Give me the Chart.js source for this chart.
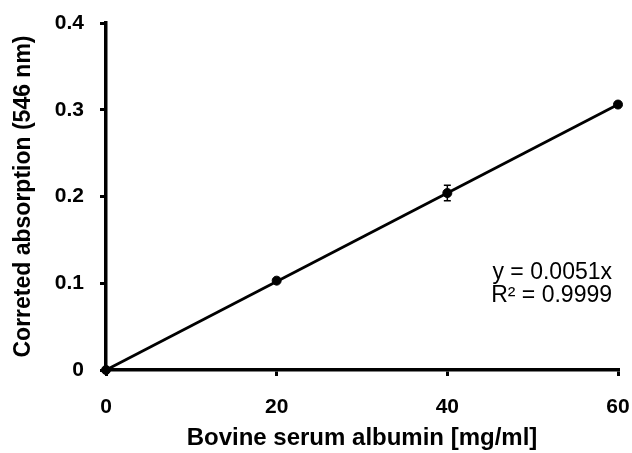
<!DOCTYPE html>
<html>
<head>
<meta charset="utf-8">
<script src="https://cdn.jsdelivr.net/npm/chart.js@4/dist/chart.umd.min.js"></script>
<style>
  html, body { margin: 0; padding: 0; background: #fff; }
  #wrap { width: 632px; height: 453px; }
</style>
</head>
<body>
<div id="wrap"><canvas id="c" width="632" height="453"></canvas></div>
<script>
// BSA calibration measurements
const concentrations = [0, 20, 40, 60];          // mg/ml
const absorbance     = [0, 0.103, 0.204, 0.306]; // corrected absorption at 546 nm
const sdError        = [0, 0, 0.009, 0];         // standard deviation
const slope = 0.0051;                             // linear fit through origin
const fitLabels = ['y = 0.0051x', 'R\u00b2 = 0.9999'];
const xTicks = [0, 20, 40, 60];
const yTicks = [0, 0.1, 0.2, 0.3, 0.4];

const FONT = '"Liberation Sans", Arial, sans-serif';

const points = concentrations.map((x, i) => ({ x, y: absorbance[i] }));
const fitLine = [concentrations[0], concentrations[concentrations.length - 1]]
  .map(x => ({ x, y: slope * x }));

// Vertical error bars with small caps
const errorBars = {
  id: 'errorBars',
  afterDatasetsDraw(chart) {
    const { ctx, scales: { x, y } } = chart;
    ctx.save();
    ctx.strokeStyle = '#000';
    ctx.lineWidth = 1.5;
    concentrations.forEach((c, i) => {
      const e = sdError[i];
      if (!e) return;
      const px = x.getPixelForValue(c);
      const top = y.getPixelForValue(absorbance[i] + e);
      const bot = y.getPixelForValue(absorbance[i] - e);
      ctx.beginPath();
      ctx.moveTo(px, top); ctx.lineTo(px, bot);
      ctx.moveTo(px - 3.5, top); ctx.lineTo(px + 3.5, top);
      ctx.moveTo(px - 3.5, bot); ctx.lineTo(px + 3.5, bot);
      ctx.stroke();
    });
    ctx.restore();
  }
};

// Regression equation text
const fitText = {
  id: 'fitText',
  afterDraw(chart) {
    const { ctx, chartArea } = chart;
    ctx.save();
    ctx.fillStyle = '#000';
    ctx.font = '23px ' + FONT;
    ctx.textAlign = 'right';
    ctx.textBaseline = 'middle';
    ctx.fillText(fitLabels[0], chartArea.right - 6, 273);
    ctx.fillText(fitLabels[1], chartArea.right - 6, 296);
    ctx.restore();
  }
};

new Chart(document.getElementById('c'), {
  type: 'scatter',
  data: {
    datasets: [
      {
        data: fitLine,
        showLine: true,
        borderColor: '#000',
        borderWidth: 2.8,
        pointRadius: 0,
        clip: false
      },
      {
        data: points,
        showLine: false,
        backgroundColor: '#000',
        borderColor: '#000',
        pointRadius: 4.5,
        clip: false
      }
    ]
  },
  options: {
    responsive: false,
    animation: false,
    layout: { padding: { top: 23, right: 14, left: 4, bottom: 0 } },
    plugins: { legend: { display: false }, tooltip: { enabled: false } },
    scales: {
      x: {
        type: 'linear',
        min: 0, max: 60,
        afterBuildTicks(axis) { axis.ticks = xTicks.map(v => ({ value: v })); },
        afterFit(axis) { axis.height = 83; axis.paddingLeft = 0; axis.paddingRight = 0; },
        grid: { drawOnChartArea: false, drawTicks: true, tickLength: 6, color: '#000', lineWidth: 3 },
        border: { display: true, color: '#000', width: 3.5 },
        ticks: { color: '#000', font: { family: FONT, size: 21, weight: 'bold' }, padding: 19, maxRotation: 0 },
        title: { display: true, text: 'Bovine serum albumin [mg/ml]', color: '#000',
                 font: { family: FONT, size: 24, weight: 'bold' }, padding: { top: 0, bottom: 0 } }
      },
      y: {
        type: 'linear',
        min: 0, max: 0.4,
        afterBuildTicks(axis) { axis.ticks = yTicks.map(v => ({ value: v })); },
        afterFit(axis) { axis.width = 102; axis.paddingTop = 0; axis.paddingBottom = 0; },
        grid: { drawOnChartArea: false, drawTicks: true, tickLength: 6, color: '#000', lineWidth: 3 },
        border: { display: true, color: '#000', width: 3.5 },
        ticks: { color: '#000', font: { family: FONT, size: 21, weight: 'bold' }, padding: 16 },
        title: { display: true, text: 'Correted absorption (546 nm)', color: '#000',
                 font: { family: FONT, size: 23, weight: 'bold' }, padding: { top: 6, bottom: 0 } }
      }
    }
  },
  plugins: [errorBars, fitText]
});
</script>
</body>
</html>
